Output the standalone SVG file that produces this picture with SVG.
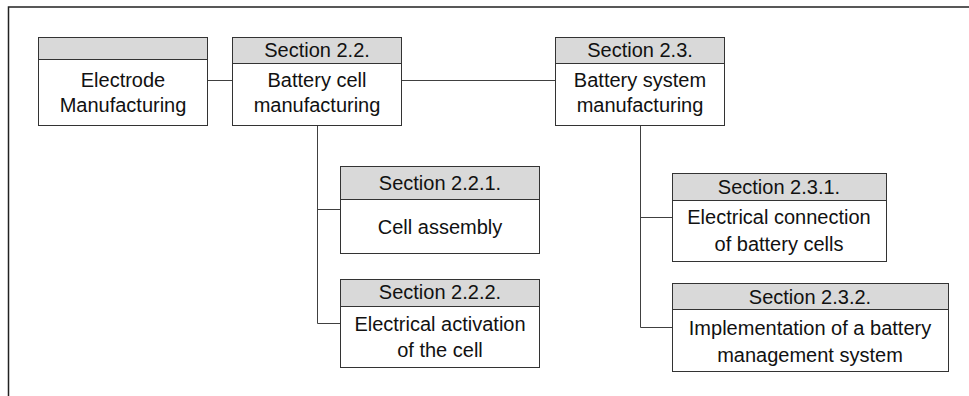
<svg xmlns="http://www.w3.org/2000/svg" width="969" height="396" viewBox="0 0 969 396">
<style>
.frame{fill:none;stroke:#222;stroke-width:1.5}
.hdr{fill:#d9d9d9;stroke:#333;stroke-width:1}
.body{fill:#fff;stroke:#333;stroke-width:1}
.conn{fill:none;stroke:#404040;stroke-width:1}
text{font-family:"Liberation Sans",Arial,sans-serif;font-size:20px;fill:#111;text-anchor:middle}
</style>
<rect x="0" y="0" width="969" height="396" fill="#fff"/>
<rect class="frame" x="8.5" y="7" width="980" height="420"/>
<g id="connectors">
<line class="conn" x1="207" y1="80.5" x2="232" y2="80.5"/>
<line class="conn" x1="401" y1="80.5" x2="555" y2="80.5"/>
<polyline class="conn" points="317.5,125 317.5,323.5 340,323.5"/>
<line class="conn" x1="317.5" y1="209.5" x2="340" y2="209.5"/>
<polyline class="conn" points="640.5,125 640.5,327.5 672,327.5"/>
<line class="conn" x1="640.5" y1="217.5" x2="672" y2="217.5"/>
</g>
<g id="electrode">
<rect class="body" x="38.5" y="37.5" width="169" height="88"/>
<rect class="hdr" x="38.5" y="37.5" width="169" height="22"/>
<text x="123" y="87">Electrode</text>
<text x="123" y="112">Manufacturing</text>
</g>
<g id="s22">
<rect class="body" x="232.5" y="37.5" width="169" height="88"/>
<rect class="hdr" x="232.5" y="37.5" width="169" height="26"/>
<text x="317" y="57">Section 2.2.</text>
<text x="317" y="87">Battery cell</text>
<text x="317" y="112">manufacturing</text>
</g>
<g id="s23">
<rect class="body" x="555.5" y="37.5" width="169" height="88"/>
<rect class="hdr" x="555.5" y="37.5" width="169" height="26"/>
<text x="640" y="57">Section 2.3.</text>
<text x="640" y="87">Battery system</text>
<text x="640" y="112">manufacturing</text>
</g>
<g id="s221">
<rect class="body" x="340.5" y="166.5" width="199" height="87"/>
<rect class="hdr" x="340.5" y="166.5" width="199" height="33"/>
<text x="440" y="190">Section 2.2.1.</text>
<text x="440" y="234">Cell assembly</text>
</g>
<g id="s222">
<rect class="body" x="340.5" y="279.5" width="199" height="88"/>
<rect class="hdr" x="340.5" y="279.5" width="199" height="27"/>
<text x="440" y="299">Section 2.2.2.</text>
<text x="440" y="331">Electrical activation</text>
<text x="440" y="357">of the cell</text>
</g>
<g id="s231">
<rect class="body" x="672.5" y="173.5" width="214" height="88"/>
<rect class="hdr" x="672.5" y="173.5" width="214" height="27"/>
<text x="779" y="194">Section 2.3.1.</text>
<text x="779" y="224">Electrical connection</text>
<text x="779" y="251">of battery cells</text>
</g>
<g id="s232">
<rect class="body" x="672.5" y="283.5" width="276" height="88"/>
<rect class="hdr" x="672.5" y="283.5" width="276" height="26"/>
<text x="810" y="304">Section 2.3.2.</text>
<text x="810" y="335">Implementation of a battery</text>
<text x="810" y="362">management system</text>
</g>
</svg>
